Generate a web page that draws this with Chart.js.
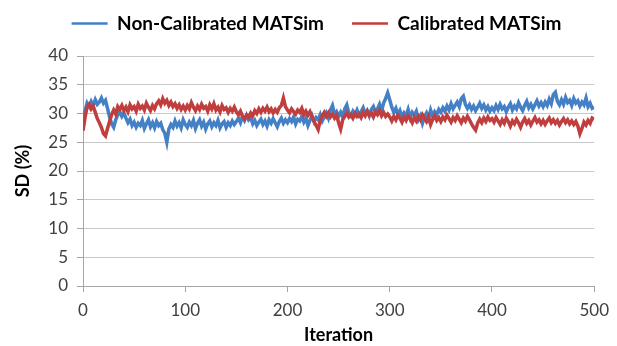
<!DOCTYPE html>
<html lang="en">
<head>
    <meta charset="UTF-8">
    <title>SD per iteration</title>
    <script src="https://cdn.jsdelivr.net/npm/chart.js"></script>
    <style>
        html, body { margin: 0; padding: 0; background: #fff; }
        .chart-container { position: relative; width: 617px; height: 346px; }
    </style>
</head>
<body>
    <div class="chart-container">
        <canvas id="sdChart"></canvas>
    </div>

    <script>
        // one value every 2 iterations, 0..500
        const iterStep = 2;

        const nonCalibrated = [
            28.6, 30.4, 31.8, 31.2, 32.1, 31.4, 32.4, 31.6, 32.0, 32.7, 31.8, 32.3, 30.9, 29.4, 28.2, 27.6, 28.9, 29.8, 30.3, 29.5, 30.1, 29.2, 28.4, 29.0, 27.9,
            28.5, 27.6, 28.3, 27.9, 28.8, 27.4, 28.2, 28.9, 27.7, 28.4, 27.5, 28.6, 27.9, 28.3, 27.2, 26.6, 25.0, 27.3, 28.1, 27.6, 28.7, 27.8, 28.4, 27.5, 28.9,
            28.1, 27.6, 28.5, 27.9, 28.8, 27.4, 28.3, 28.9, 27.8, 28.5, 27.3, 28.2, 28.7, 27.7, 28.4, 27.9, 28.8, 27.5, 28.2, 28.6, 27.6, 28.4, 27.9, 28.7, 28.1,
            28.6, 29.2, 28.4, 29.5, 28.8, 29.7, 28.9, 29.3, 28.2, 28.8, 27.9, 28.5, 29.0, 28.1, 28.7, 27.8, 28.9, 28.3, 29.1, 28.4, 27.7, 28.6, 29.2, 28.3, 28.9,
            28.4, 29.1, 28.6, 29.4, 28.2, 29.0, 28.7, 29.5, 28.5, 29.2, 27.9, 28.8, 29.6, 28.6, 29.3, 28.9, 29.8, 28.7, 29.4, 30.1, 29.2, 30.6, 31.4, 29.8, 30.3,
            29.5, 30.2, 29.4, 30.8, 31.5, 30.1, 29.6, 30.4, 29.8, 30.6, 29.7, 30.3, 31.0, 29.9, 30.5, 29.6, 30.7, 31.2, 30.2, 30.8, 31.6, 30.4, 31.8, 32.6, 33.6,
            32.4, 31.1, 30.2, 30.9, 29.8, 30.5, 29.4, 30.1, 29.6, 30.7, 29.3, 30.2, 29.7, 30.4, 28.9, 29.6, 28.3, 29.4, 30.1, 29.2, 30.6, 29.5, 30.3, 29.8, 30.7,
            30.2, 31.0, 30.4, 31.3, 30.6, 31.7, 30.8, 31.4, 32.0, 31.2, 32.6, 33.0, 31.6, 30.9, 31.5, 30.7, 31.3, 30.5, 31.1, 31.8, 30.9, 31.5, 30.6, 31.2, 30.4,
            31.0, 30.5, 31.4, 30.7, 31.6, 30.8, 31.2, 30.3, 31.1, 31.7, 30.6, 31.3, 30.8, 31.9, 31.1, 30.5, 31.4, 32.1, 31.0, 31.6, 30.8, 31.5, 32.2, 31.3, 31.9,
            31.2, 32.0, 31.4, 32.5, 31.7, 33.3, 33.7, 32.1, 31.5, 32.4, 31.6, 32.8, 31.9, 32.3, 31.4, 32.6, 31.8, 32.2, 31.3, 32.0, 31.5, 32.7, 31.2, 31.8, 30.9,
            31.1
        ];

        const calibrated = [
            27.0, 29.3, 31.2, 31.6, 30.8, 31.3, 30.2, 29.1, 28.4, 27.6, 26.5, 26.1, 27.4, 28.6, 29.8, 30.6, 29.9, 31.2, 30.7, 31.4, 30.5, 31.1, 30.3, 31.5, 30.8,
            31.2, 30.4, 31.6, 30.9, 31.3, 30.6, 31.8, 31.1, 30.5, 31.4, 30.8, 31.7, 32.2, 31.5, 32.6, 31.8, 32.3, 31.4, 32.0, 31.2, 31.7, 30.9, 31.5, 30.7, 31.3,
            30.6, 31.4, 30.8, 31.9, 31.1, 30.5, 31.3, 30.7, 31.6, 30.9, 31.2, 30.4, 31.5, 30.8, 31.7, 30.6, 31.1, 30.3, 31.4, 30.7, 31.0, 30.2, 30.9, 30.4, 31.1,
            30.3, 29.8, 30.4, 29.5, 29.1, 29.7, 29.3, 30.1, 29.6, 30.5, 30.0, 30.8, 30.2, 30.9, 30.4, 31.1, 30.3, 30.8, 30.1, 30.7, 30.2, 31.0, 31.4, 32.7, 31.2,
            30.6, 30.1, 30.8, 30.3, 29.9, 30.6, 30.2, 30.9, 29.8, 30.4, 29.7, 30.3, 29.4, 28.6, 27.9, 27.2, 28.8, 29.6, 30.2, 29.5, 30.1, 29.4, 29.9, 29.2, 29.7,
            28.4, 27.3, 28.9, 29.5, 30.1, 29.4, 29.8, 29.2, 30.0, 29.5, 29.9, 29.3, 30.2, 29.6, 30.4, 29.7, 30.1, 29.4, 30.3, 29.8, 30.5, 29.6, 30.2, 29.5, 29.9,
            29.4, 28.7, 29.5, 28.9, 29.7, 29.2, 28.5, 29.4, 28.8, 29.6, 29.1, 28.4, 29.3, 28.7, 29.5, 28.9, 29.8, 29.2, 28.6, 29.4, 28.1, 29.0, 29.6, 28.8, 29.3,
            28.6, 29.4, 28.9, 29.7, 29.1, 28.5, 29.3, 28.8, 29.6, 29.0, 28.4, 29.2, 28.7, 29.5, 28.9, 28.2, 27.6, 27.1, 28.3, 29.0, 28.4, 29.2, 28.6, 29.4, 28.8,
            29.1, 28.5, 29.3, 28.7, 28.1, 28.9, 28.3, 29.2, 28.6, 27.8, 28.7, 28.2, 29.0, 28.4, 27.6, 28.5, 29.1, 28.3, 28.8, 28.0, 28.7, 29.3, 28.5, 28.9, 28.2,
            28.8, 28.1, 28.7, 29.2, 28.4, 28.9, 28.3, 28.8, 28.0, 28.6, 29.1, 28.4, 28.9, 28.2, 28.7, 28.1, 28.6, 27.8, 26.5, 27.4, 28.5, 28.0, 28.8, 28.3, 29.2,
            29.0
        ];

        const iterations = nonCalibrated.map((v, i) => i * iterStep);

        const seriesNames = ["Non-Calibrated MATSim", "Calibrated MATSim"];
        const yTicks = { min: 0, max: 40, step: 5 };
        const xTicks = { min: 0, max: 500, step: 100 };

        const gridColor = "#c9c9c9";
        const axisColor = "#a6a6a6";
        const textColor = "#404040";

        // extra room between legend and plot
        const legendGap = {
            id: "legendGap",
            beforeInit(chart) {
                const fit = chart.legend.fit;
                chart.legend.fit = function () {
                    fit.bind(chart.legend)();
                    this.height += 13;
                };
            }
        };

        let ctx = document.getElementById("sdChart").getContext("2d");
        let sdChart = new Chart(ctx, {
            type: "line",
            data: {
                labels: iterations,
                datasets: [{
                    label: seriesNames[0],
                    data: nonCalibrated,
                    borderColor: "#4480c6",
                    backgroundColor: "#4480c6",
                    borderWidth: 3.5,
                    pointRadius: 0,
                    tension: 0,
                    order: 1
                }, {
                    label: seriesNames[1],
                    data: calibrated,
                    borderColor: "#c13e3e",
                    backgroundColor: "#c13e3e",
                    borderWidth: 3.5,
                    pointRadius: 0,
                    tension: 0,
                    order: 0
                }]
            },
            plugins: [legendGap],
            options: {
                responsive: true,
                maintainAspectRatio: false,
                animation: false,
                layout: { padding: { top: -14, right: 20, left: 36, bottom: 0 } },
                plugins: {
                    tooltip: { enabled: false },
                    legend: {
                        position: "top",
                        labels: {
                            usePointStyle: true,
                            pointStyle: "line",
                            pointStyleWidth: 36,
                            padding: 28,
                            color: "#000",
                            font: { family: "Lato", size: 19, weight: "bold" },
                            sort: (a, b) => a.datasetIndex - b.datasetIndex,
                            generateLabels: chart =>
                                Chart.defaults.plugins.legend.labels.generateLabels(chart)
                                    .map(item => ({ ...item, lineWidth: 2.5 }))
                        }
                    }
                },
                scales: {
                    x: {
                        type: "linear",
                        min: xTicks.min,
                        max: xTicks.max,
                        afterFit: scale => { scale.height = 60; },
                        ticks: {
                            stepSize: xTicks.step,
                            color: textColor,
                            padding: 8,
                            font: { family: "Lato", size: 17 }
                        },
                        grid: { drawOnChartArea: false, drawTicks: true, tickLength: 6, color: axisColor },
                        border: { color: axisColor },
                        title: {
                            display: true,
                            text: "Iteration",
                            color: "#000",
                            padding: { top: 0, bottom: 0 },
                            font: { family: "Lato", size: 18, weight: "bold" }
                        }
                    },
                    y: {
                        min: yTicks.min,
                        max: yTicks.max,
                        afterFit: scale => { scale.width = 47; },
                        ticks: {
                            stepSize: yTicks.step,
                            color: textColor,
                            padding: 9,
                            font: { family: "Lato", size: 17 }
                        },
                        grid: { color: gridColor, tickLength: 6, tickColor: axisColor },
                        border: { color: axisColor },
                        title: {
                            display: true,
                            text: "SD (%)",
                            color: "#000",
                            padding: { top: -24, bottom: 0 },
                            font: { family: "Lato", size: 18, weight: "bold" }
                        }
                    }
                }
            }
        });
    </script>
</body>
</html>
